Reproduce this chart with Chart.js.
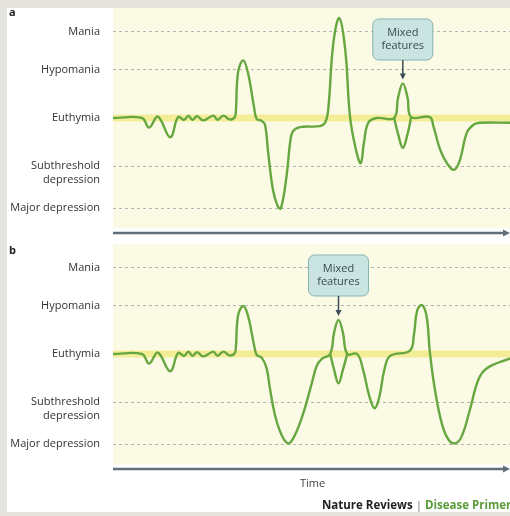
<!DOCTYPE html>
<html>
<head>
<meta charset="utf-8">
<script src="https://cdn.jsdelivr.net/npm/chart.js@4.4.1/dist/chart.umd.min.js"></script>
<style>
  html, body { margin: 0; padding: 0; }
  body {
    width: 510px; height: 516px; overflow: hidden; position: relative;
    background: #e6e4df; font-family: "Open Sans", sans-serif;
  }
  #sheet { position: absolute; left: 7px; top: 8px; width: 503px; height: 504px; background: #fff; }
  .panel { position: absolute; left: 0; width: 510px; height: 240px; }
  #panelA { top: 0; }
  #panelB { top: 236px; }
  .tag { position: absolute; left: 9px; font-weight: 700; font-size: 11px; color: #222; }
  #time { position: absolute; left: 300px; top: 475px; font-size: 11px; color: #444; }
  #credit { position: absolute; left: 322px; top: 497px; font-size: 11.5px; font-weight: 700; color: #222; white-space: nowrap; }
  #credit .sep { color: #777; font-weight: 400; }
  #credit .dp { color: #5a9b3a; }
</style>
</head>
<body>
<div id="sheet"></div>
<div class="panel" id="panelA"><canvas id="chartA" width="510" height="240"></canvas></div>
<div class="panel" id="panelB"><canvas id="chartB" width="510" height="240"></canvas></div>
<div class="tag" style="top:4px">a</div>
<div class="tag" style="top:242px">b</div>
<div id="time">Time</div>
<div id="credit">Nature Reviews <span class="sep">|</span> <span class="dp">Disease Primers</span></div>

<script>
// mood levels (y) and their labels
const levelValues = [1.8, 1, 0, -1, -1.88];
const levelLabels = ["Mania", "Hypomania", "Euthymia", ["", "Subthreshold", "depression"], "Major depression"];
const euthymia = 0;

// panel a: time (0-100) and mood
const timeA = [0, 7.3, 9.1, 11.3, 14.4, 16.4, 17.9, 19.0, 20.0, 21.2, 22.7, 25.3, 26.3, 27.8, 29.3, 30.5,
  30.9, 31.5, 32.8, 34.0, 35.5, 36.2, 37.5, 38.3, 39.1, 40.3, 41.5, 42.3, 43.7, 44.6, 45.3, 47.1, 52.1,
  53.4, 54.2, 55.5, 57.0, 58.5, 59.7, 61.2, 62.4, 63.2, 64.3, 66.4, 70.8, 71.8, 73.0, 74.2, 75.1, 79.8,
  80.7, 82.4, 84.1, 85.9, 87.4, 89.1, 90.8, 92.4, 100];
const moodA = [0, 0, -0.2, 0.03, -0.4, 0.02, -0.04, 0.05, -0.04, 0.04, -0.05, 0.05, -0.04, 0.05, -0.03, 0,
  0.08, 0.95, 1.2, 0.94, 0.24, -0.02, -0.06, -0.14, -0.73, -1.5, -1.84, -1.88, -1.22, -0.52, -0.28, -0.19, -0.17,
  -0.1, 0.17, 1.56, 2.08, 1.42, 0.03, -0.66, -0.94, -0.52, -0.1, 0, 0, 0.42, 0.72, 0.42, 0.02, 0.02,
  -0.17, -0.66, -0.94, -1.08, -0.87, -0.31, -0.14, -0.1, -0.1];
// lower branch of the mixed-features episode
const mixTimeA = [70.8, 71.8, 73.0, 74.2, 75.1];
const mixMoodA = [0, -0.33, -0.62, -0.33, 0.02];
const mixPeakA = { time: 73.0, mood: 0.72 };

// panel b
const timeB = [0, 7.3, 9.1, 11.3, 14.4, 16.4, 17.9, 19.0, 20.0, 21.2, 22.7, 25.3, 26.3, 27.8, 29.3, 30.5,
  30.9, 31.5, 32.8, 34.0, 35.5, 36.2, 37.5, 38.7, 39.5, 40.8, 42.5, 44.2, 45.8, 47.9, 50.1, 51.3, 52.6,
  54.7, 55.7, 56.8, 57.9, 59.0, 61.5, 63.0, 64.6, 65.9, 67.1, 68.3, 69.8, 74.8, 75.8, 76.6, 77.8, 79.0,
  79.8, 81.1, 82.8, 84.4, 86.1, 87.8, 89.9, 92.0, 94.1, 100];
const moodB = [0, 0, -0.2, 0.03, -0.36, 0.02, -0.04, 0.05, -0.04, 0.04, -0.05, 0.05, -0.04, 0.05, -0.03, 0,
  0.08, 0.8, 1.0, 0.8, 0.2, -0.02, -0.08, -0.3, -0.7, -1.27, -1.69, -1.86, -1.69, -1.24, -0.6, -0.25, -0.1,
  0, 0.45, 0.71, 0.45, 0, 0, -0.33, -0.89, -1.13, -0.89, -0.35, -0.04, 0.07, 0.4, 0.9, 1.02, 0.78,
  0.05, -0.75, -1.44, -1.77, -1.86, -1.72, -1.16, -0.54, -0.3, -0.09];
const mixTimeB = [54.7, 55.7, 56.8, 57.9, 59.0];
const mixMoodB = [0, -0.33, -0.61, -0.33, 0];
const mixPeakB = { time: 56.8, mood: 0.71 };

const lineGreen = "#66a740";

const plotBg = {
  id: "plotBg",
  beforeDraw(chart) {
    const { ctx, chartArea: a } = chart;
    ctx.save();
    ctx.fillStyle = "#fbfae4";
    ctx.fillRect(a.left, a.top, a.right - a.left, a.bottom - a.top);
    ctx.restore();
  },
};

const decor = {
  id: "decor",
  afterDraw(chart, args, opts) {
    const { ctx, chartArea: a } = chart;
    const xs = chart.scales.x, ys = chart.scales.y;
    ctx.save();
    // time axis with arrow
    const ay = a.bottom + 5;
    ctx.strokeStyle = "#5f6e79";
    ctx.fillStyle = "#5f6e79";
    ctx.lineWidth = 2.5;
    ctx.beginPath();
    ctx.moveTo(a.left, ay);
    ctx.lineTo(a.right - 4, ay);
    ctx.stroke();
    ctx.beginPath();
    ctx.moveTo(a.right, ay);
    ctx.lineTo(a.right - 7, ay - 3.5);
    ctx.lineTo(a.right - 7, ay + 3.5);
    ctx.closePath();
    ctx.fill();

    // mixed features callout
    const px = xs.getPixelForValue(opts.peak.time);
    const py = ys.getPixelForValue(opts.peak.mood);
    const w = 60, h = 41, top = a.top + 11;
    ctx.beginPath();
    ctx.roundRect(px - w / 2, top, w, h, 6);
    ctx.fillStyle = "#cae4e2";
    ctx.fill();
    ctx.lineWidth = 1;
    ctx.strokeStyle = "#86b4b2";
    ctx.stroke();
    ctx.fillStyle = "#3b4a4e";
    ctx.font = "11px 'Open Sans'";
    ctx.textAlign = "center";
    ctx.textBaseline = "middle";
    ctx.fillText("Mixed", px, top + 14);
    ctx.fillText("features", px, top + 27);
    const tip = py - 4;
    ctx.strokeStyle = "#3e4c56";
    ctx.fillStyle = "#3e4c56";
    ctx.lineWidth = 1.5;
    ctx.beginPath();
    ctx.moveTo(px, top + h);
    ctx.lineTo(px, tip - 5);
    ctx.stroke();
    ctx.beginPath();
    ctx.moveTo(px, tip);
    ctx.lineTo(px - 3, tip - 6);
    ctx.lineTo(px + 3, tip - 6);
    ctx.closePath();
    ctx.fill();
    ctx.restore();
  },
};

function pts(xs, ys) {
  return xs.map((x, i) => ({ x: x, y: ys[i] }));
}

function makeChart(id, time, mood, mixTime, mixMood, peak) {
  const lineStyle = { borderColor: lineGreen, borderWidth: 2.4, pointRadius: 0, tension: 0.4, showLine: true, fill: false };
  return new Chart(document.getElementById(id), {
    type: "scatter",
    data: {
      datasets: [
        { data: pts(time, mood), ...lineStyle },
        { data: pts(mixTime, mixMood), ...lineStyle },
        {
          data: [{ x: 0, y: euthymia }, { x: 100, y: euthymia }],
          borderColor: "#f3ed98", borderWidth: 7, pointRadius: 0, showLine: true,
        },
      ],
    },
    options: {
      responsive: false,
      animation: false,
      layout: { padding: { top: 8, bottom: 12, left: 0, right: 0 } },
      plugins: {
        legend: { display: false },
        tooltip: { enabled: false },
        decor: { peak: peak },
      },
      scales: {
        x: { type: "linear", min: 0, max: 100, display: false },
        y: {
          min: -2.29,
          max: 2.29,
          afterBuildTicks: (scale) => {
            scale.ticks = levelValues.map((v) => ({ value: v }));
          },
          afterFit: (scale) => {
            scale.width = 113;
            scale.paddingTop = 0;
            scale.paddingBottom = 0;
          },
          ticks: {
            autoSkip: false,
            padding: 13,
            color: "#333",
            font: { family: "Open Sans", size: 11, lineHeight: 1.25 },
            callback: (v, i) => levelLabels[i],
          },
          grid: {
            drawTicks: false,
            lineWidth: 1,
            color: (c) => (c.tick && c.tick.value === euthymia ? "rgba(0,0,0,0)" : "#b4b4b4"),
          },
          border: { display: false, dash: [3, 3] },
        },
      },
    },
    plugins: [plotBg, decor],
  });
}

makeChart("chartA", timeA, moodA, mixTimeA, mixMoodA, mixPeakA);
makeChart("chartB", timeB, moodB, mixTimeB, mixMoodB, mixPeakB);
</script>
</body>
</html>
